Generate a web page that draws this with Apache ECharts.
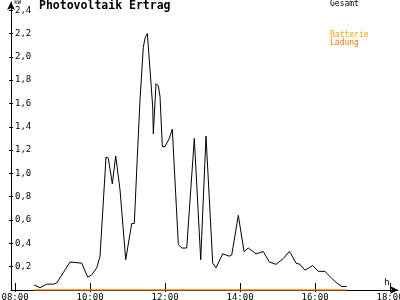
<!DOCTYPE html>
<html>
<head>
<meta charset="utf-8">
<script src="https://cdn.jsdelivr.net/npm/echarts@6/dist/echarts.min.js"></script>
<style>html,body{margin:0;padding:0;background:#fff}#c{width:400px;height:300px}</style>
</head>
<body>
<div id="c"></div>
<script>
// time of day in decimal hours
var times = [8.507,8.667,8.845,9.021,9.112,9.467,9.512,9.779,9.939,10.045,10.179,10.267,10.427,10.488,10.595,10.685,10.8,10.952,11.112,11.181,11.261,11.333,11.421,11.467,11.528,11.6,11.672,11.688,11.76,11.821,11.867,11.928,12.0,12.115,12.195,12.221,12.355,12.445,12.579,12.781,12.952,13.093,13.272,13.36,13.539,13.715,13.779,13.955,14.107,14.221,14.427,14.621,14.781,14.96,15.155,15.315,15.36,15.493,15.6,15.733,15.939,16.088,16.267,16.445,16.579,16.712,16.845];
// Gesamt (kW)
var gesamt = [0.043,0.02,0.05,0.05,0.06,0.24,0.24,0.23,0.11,0.13,0.19,0.29,1.14,1.13,0.91,1.15,0.86,0.26,0.57,0.57,1.14,1.63,2.08,2.16,2.20,1.89,1.57,1.34,1.77,1.75,1.66,1.23,1.23,1.30,1.38,1.38,0.39,0.36,0.36,1.30,0.26,1.32,0.23,0.19,0.31,0.29,0.30,0.64,0.33,0.36,0.31,0.33,0.24,0.22,0.27,0.33,0.31,0.23,0.22,0.17,0.21,0.16,0.16,0.10,0.06,0.03,0.03];
// Batterie Ladung (kW)
var ladung = [0,0,0,0,0,0,0,0,0,0,0,0,0,0,0,0,0,0,0,0,0,0,0,0,0,0,0,0,0,0,0,0,0,0,0,0,0,0,0,0,0,0,0,0,0,0,0,0,0,0,0,0,0,0,0,0,0,0,0,0,0,0,0,0,0,0,0];
var xTicks = [8,10,12,14,16,18];
var yTicks = [0.2,0.4,0.6,0.8,1.0,1.2,1.4,1.6,1.8,2.0,2.2,2.4];

var F = 'DejaVu Sans Mono';
function pairs(xs, ys){ return xs.map(function(x,i){ return [x, ys[i]]; }); }
function hh(v){ var h = Math.round(v); return (h<10?'0':'')+h+':00'; }

var chart = echarts.init(document.getElementById('c'), null, {renderer:'canvas'});
var axisBase = {type:'value', splitLine:{show:false}};
chart.setOption({
  animation:false,
  backgroundColor:'#fff',
  title:[
    {text:'Photovoltaik Ertrag', left:39, top:0, padding:0, textStyle:{fontFamily:F, fontSize:11.5, fontWeight:'bold', color:'#000'}},
    {text:'Gesamt', left:330, top:0, padding:0, textStyle:{fontFamily:F, fontSize:8, fontWeight:'normal', color:'#000'}},
    {text:'Batterie', left:330, top:31, padding:0, textStyle:{fontFamily:F, fontSize:8, fontWeight:'normal', color:'#ffa000'}},
    {text:'Ladung', left:330, top:39, padding:0, textStyle:{fontFamily:F, fontSize:8, fontWeight:'normal', color:'#ff7800'}}
  ],
  grid:{left:11, right:2, top:2, bottom:10, containLabel:false, outerBoundsMode:'none'},
  xAxis:[
    Object.assign({}, axisBase, {
      min:7.893, max:18.213,
      name:'h', nameLocation:'end', nameGap:-11,
      nameTextStyle:{fontFamily:F, fontSize:9, color:'#000', align:'center', verticalAlign:'bottom', padding:[0,0,3,0]},
      axisLine:{show:true, onZero:false, lineStyle:{color:'#000', width:1}, symbol:['none','arrow'], symbolSize:[6,8]},
      axisTick:{show:true, inside:false, length:2, customValues:xTicks, lineStyle:{color:'#000'}},
      axisLabel:{show:true, margin:3, customValues:xTicks, formatter:hh, fontFamily:F, fontSize:9, color:'#000'}
    }),
    Object.assign({}, axisBase, {
      min:7.893, max:18.213, position:'bottom',
      axisLine:{show:false},
      axisTick:{show:true, inside:true, length:7, customValues:xTicks, lineStyle:{color:'#000'}},
      axisLabel:{show:false}
    })
  ],
  yAxis:[
    Object.assign({}, axisBase, {
      min:0, max:2.47,
      name:'kW', nameLocation:'end', nameGap:-1,
      nameTextStyle:{fontFamily:F, fontSize:6, color:'#000', align:'left', verticalAlign:'top', padding:[0,0,0,3]},
      axisLine:{show:true, onZero:false, lineStyle:{color:'#000', width:1}, symbol:['none','arrow'], symbolSize:[6,8]},
      axisTick:{show:true, inside:false, length:2, customValues:yTicks, lineStyle:{color:'#000'}},
      axisLabel:{show:true, inside:true, margin:4, customValues:yTicks, formatter:function(v){return v.toFixed(1).replace('.',',');}, fontFamily:F, fontSize:9, color:'#000'}
    }),
    Object.assign({}, axisBase, {
      min:0, max:2.47, position:'left',
      axisLine:{show:false},
      axisTick:{show:true, inside:true, length:2, customValues:yTicks, lineStyle:{color:'#000'}},
      axisLabel:{show:false}
    })
  ],
  series:[
    {name:'Gesamt', type:'line', xAxisIndex:0, yAxisIndex:0, data:pairs(times,gesamt), showSymbol:false, symbol:'none', lineStyle:{color:'#000', width:1}, itemStyle:{color:'#000'}, z:3},
    {name:'Batterie Ladung', type:'line', xAxisIndex:0, yAxisIndex:0, data:pairs(times,ladung), showSymbol:false, symbol:'none', lineStyle:{color:'#ff8000', width:1.5}, itemStyle:{color:'#ff8000'}, z:4}
  ]
});
</script>
</body>
</html>
